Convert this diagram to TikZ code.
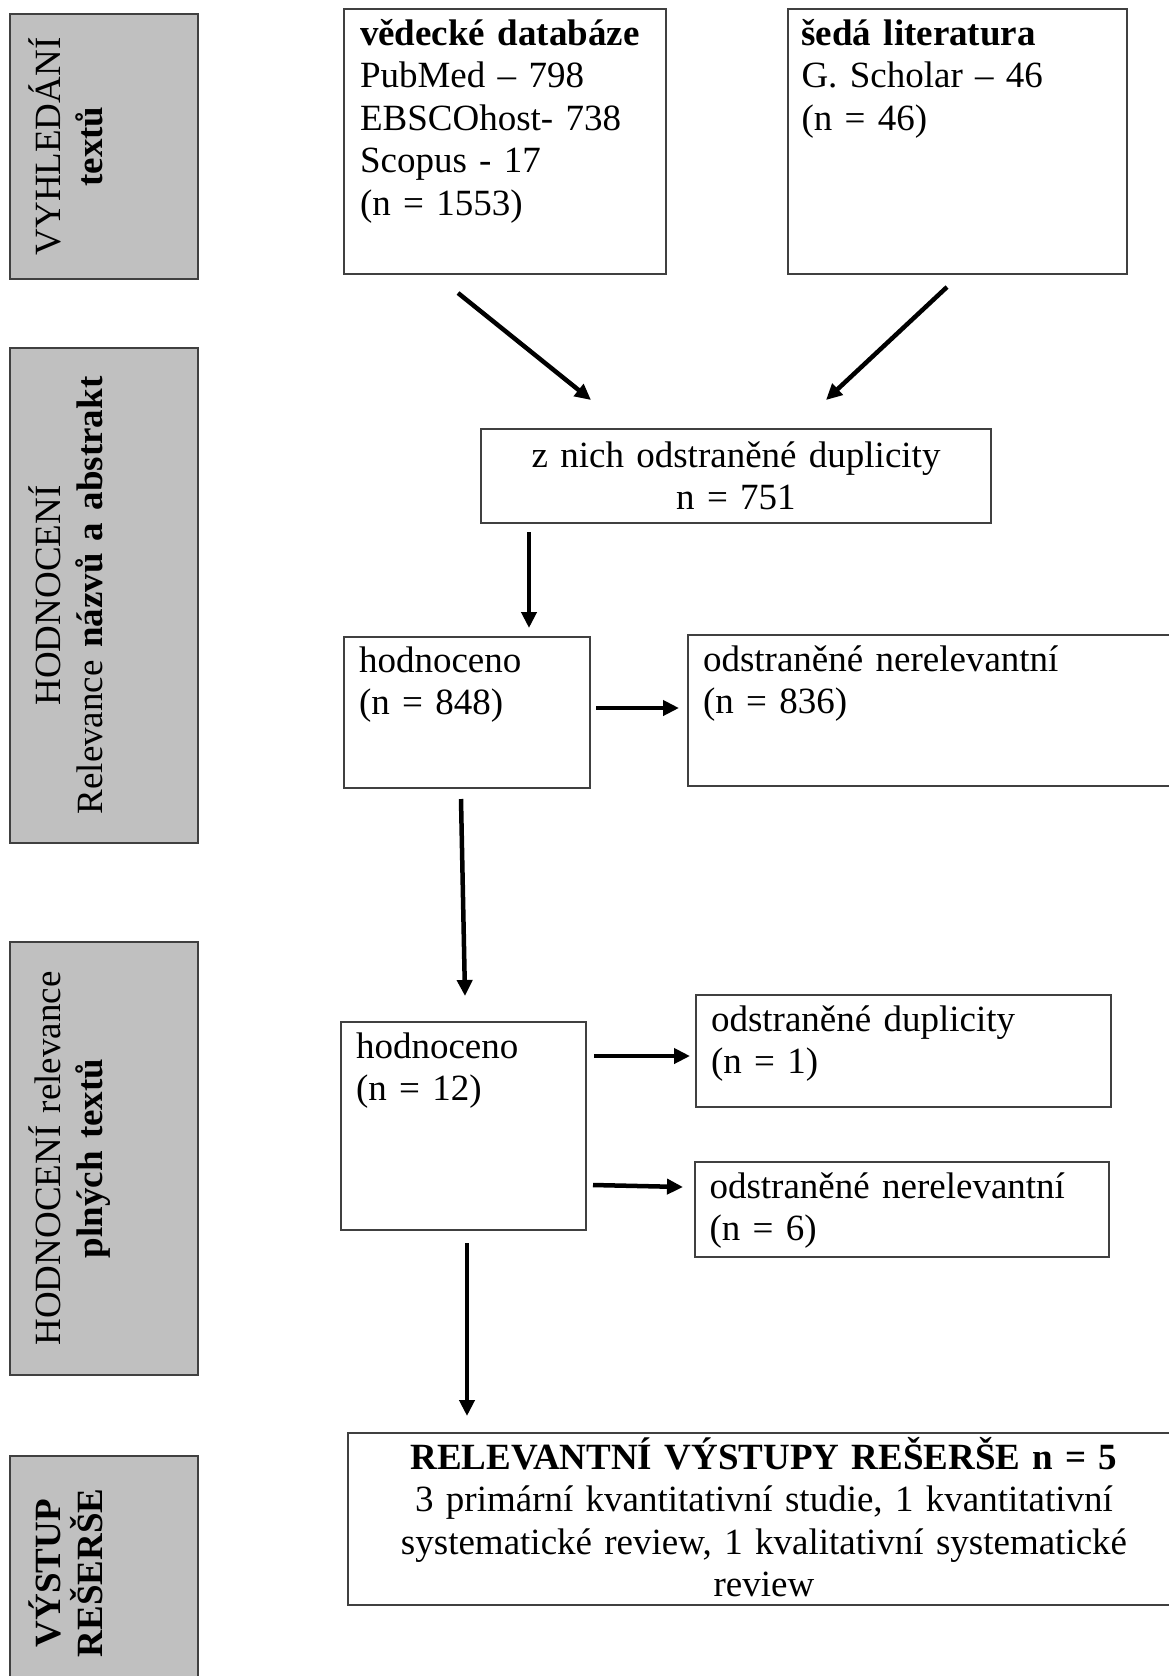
\documentclass[tikz,border=0pt]{standalone}
\usepackage{fontspec}
\setmainfont[WordSpace=0.82]{Liberation Serif}
\usetikzlibrary{arrows.meta}
\definecolor{stagegray}{HTML}{C0C0C0}
\definecolor{framegray}{HTML}{404040}
\newcommand\flowfont{\fontsize{37}{42.6}\selectfont}

\begin{document}
\begin{tikzpicture}[x=1pt,y=-1pt,
    arr/.style={-{Triangle[length=16pt,width=15pt]},line width=4.5pt},
    every node/.style={font=\flowfont,inner sep=0pt,outer sep=0pt}]
  \tikzset{box/.style={draw=framegray,line width=2pt,anchor=north west,
                       inner xsep=15pt,align=left},
           stage/.style={draw=framegray,fill=stagegray,line width=2pt,
                         rotate=90,align=center,text height=50pt,text depth=138pt}}
  \useasboundingbox (0,0) rectangle (1169,1676);

  % phases on the left
  \node[stage,text width=265pt] (search) at (104,146.5) {VYHLEDÁNÍ\\\textbf{textů}};
  \node[stage,text width=495pt] (abstr) at (104,595.5)
    {HODNOCENÍ\\Relevance \textbf{názvů a abstrakt}};
  \node[stage,text width=433pt] (fulltxt) at (104,1158.5)
    {HODNOCENÍ relevance\\\textbf{plných textů}};
  \node[stage,text width=234pt] (output) at (104,1573) {\textbf{VÝSTUP}\\\textbf{REŠERŠE}};

  % boxes
  \node[box,inner xsep=16pt,text width=290pt,text height=36.5pt,text depth=229pt]
    (db) at (344,8.5)
    {\textbf{vědecké databáze}\\PubMed – 798\\EBSCOhost- 738\\Scopus - 17\\(n = 1553)};
  \node[box,inner xsep=13.5pt,text width=312pt,text height=36.5pt,text depth=229pt]
    (greylit) at (788,8.5) {\textbf{šedá literatura}\\G. Scholar – 46\\(n = 46)};
  \node[box,align=center,text width=480pt,text height=38.5pt,text depth=55.5pt]
    (dup) at (481,428.5) {z nich odstraněné duplicity\\n = 751};
  \node[box,text width=216pt,text height=35pt,text depth=116pt]
    (title) at (344,637) {hodnoceno\\(n = 848)};
  \node[box,text width=470pt,text height=36pt,text depth=115pt]
    (irrel) at (688,635) {odstraněné nerelevantní\\(n = 836)};
  \node[box,text width=215pt,text height=36pt,text depth=172pt]
    (full) at (341,1022) {hodnoceno\\(n = 12)};
  \node[box,text width=385pt,text height=36pt,text depth=76pt]
    (fdup) at (696,995) {odstraněné duplicity\\(n = 1)};
  \node[box,inner xsep=14.5pt,text width=385pt,text height=36pt,text depth=59pt]
    (firrel) at (695,1162) {odstraněné nerelevantní\\(n = 6)};
  \node[box,align=center,text width=802pt,text height=36pt,text depth=136pt]
    (result) at (348,1433)
    {\textbf{RELEVANTNÍ VÝSTUPY REŠERŠE n = 5}\\3 primární kvantitativní studie, 1 kvantitativní\\systematické review, 1 kvalitativní systematické\\review};

  % arrows
  \draw[arr] ([xshift=-47pt,yshift=-19pt]db.south) -- ([xshift=-145pt,yshift=28.5pt]dup.north);
  \draw[arr] ([xshift=-10.5pt,yshift=-13pt]greylit.south) -- ([xshift=90pt,yshift=28.5pt]dup.north);
  \draw[arr] ([xshift=-207pt,yshift=-9.5pt]dup.south) -- ([xshift=62pt,yshift=9pt]title.north);
  \draw[arr] ([xshift=6pt,yshift=4.5pt]title.east) -- ([xshift=-9pt,yshift=2.5pt]irrel.west);
  \draw[arr] ([xshift=-6pt,yshift=-11pt]title.south) -- ([xshift=1.5pt,yshift=26pt]full.north);
  \draw[arr] ([xshift=8pt,yshift=70pt]full.east) -- ([xshift=-6pt,yshift=-5pt]fdup.west);
  \draw[arr] ([xshift=7pt,yshift=-59pt]full.east) -- ([xshift=-12pt,yshift=22.5pt]firrel.west);
  \draw[arr] ([xshift=3.5pt,yshift=-13pt]full.south) -- ([xshift=-297pt,yshift=17pt]result.north);
\end{tikzpicture}
\end{document}
